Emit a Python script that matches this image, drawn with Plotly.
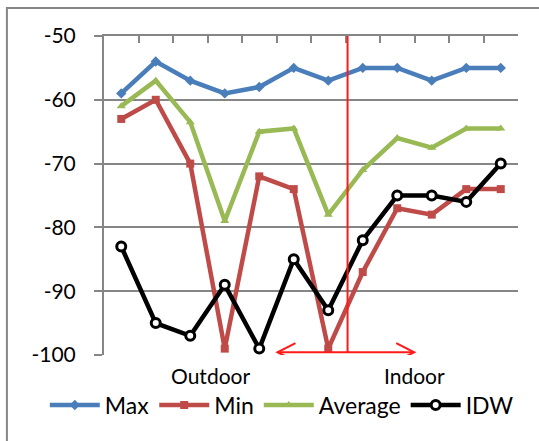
import plotly.graph_objects as go

# ---- data ----
points = list(range(1, 13))
max_vals = [-59, -54, -57, -59, -58, -55, -57, -55, -55, -57, -55, -55]
min_vals = [-63, -60, -70, -99, -72, -74, -99, -87, -77, -78, -74, -74]
avg_vals = [-61, -57, -63.5, -79, -65, -64.5, -78, -71, -66, -67.5, -64.5, -64.5]
idw_vals = [-83, -95, -97, -89, -99, -85, -93, -82, -75, -75, -76, -70]
y_ticks = [-50, -60, -70, -80, -90, -100]
group_labels = ["Outdoor", "Indoor"]
group_pos = [3.6, 9.5]
divider_x = 7.56
arrow_x = [5.53, 9.49]
arrow_y = -99.57

FONT = "Lato"
GRAY = "#868686"

fig = go.Figure()
fig.add_trace(go.Scatter(x=points, y=max_vals, name="Max", mode="lines+markers",
                         line=dict(color="#4A7EBB", width=4.5),
                         marker=dict(symbol="diamond", size=8, color="#4A7EBB")))
fig.add_trace(go.Scatter(x=points, y=min_vals, name="Min", mode="lines+markers",
                         line=dict(color="#BE4B48", width=4.5),
                         marker=dict(symbol="square", size=8, color="#BE4B48")))
fig.add_trace(go.Scatter(x=points, y=avg_vals, name="Average", mode="lines+markers",
                         line=dict(color="#98B954", width=4.5),
                         marker=dict(symbol="triangle-up", size=8, color="#98B954")))
fig.add_trace(go.Scatter(x=points, y=idw_vals, name="IDW", mode="lines+markers",
                         line=dict(color="#000000", width=4.5),
                         marker=dict(symbol="circle", size=9, color="white",
                                     line=dict(color="#000000", width=3))))

shapes = []
# outer chart border
shapes.append(dict(type="rect", xref="paper", yref="paper",
                   x0=-0.2345, x1=1.2, y0=-0.4, y1=1.0878,
                   line=dict(color=GRAY, width=2), layer="below"))
# divider line
shapes.append(dict(type="line", xref="x", yref="y", x0=divider_x, x1=divider_x,
                   y0=-50, y1=arrow_y, line=dict(color="#FF1A1A", width=2)))
# double arrow
shapes.append(dict(type="line", xref="x", yref="y", x0=arrow_x[0], x1=arrow_x[1],
                   y0=arrow_y, y1=arrow_y, line=dict(color="#FF1A1A", width=2)))
dx, dy = 0.52, 1.42
shapes.append(dict(type="path", xref="x", yref="y",
                   path=f"M{arrow_x[0]+dx},{arrow_y+dy} L{arrow_x[0]},{arrow_y} L{arrow_x[0]+dx},{arrow_y-dy}",
                   line=dict(color="#FF1A1A", width=2)))
shapes.append(dict(type="path", xref="x", yref="y",
                   path=f"M{arrow_x[1]-dx},{arrow_y+dy} L{arrow_x[1]},{arrow_y} L{arrow_x[1]-dx},{arrow_y-dy}",
                   line=dict(color="#FF1A1A", width=2)))

annotations = [dict(x=px, y=-0.065, xref="x", yref="paper", text=t, showarrow=False,
                    xanchor="center", yanchor="middle",
                    font=dict(family=FONT, size=21, color="#000"))
               for t, px in zip(group_labels, group_pos)]

fig.update_layout(
    width=539, height=441,
    margin=dict(l=104, r=21.3, t=36, b=86, pad=0, autoexpand=False),
    paper_bgcolor="white", plot_bgcolor="white",
    font=dict(family=FONT, size=21, color="#000"),
    shapes=shapes, annotations=annotations,
    showlegend=True,
    legend=dict(orientation="h", x=-0.143, y=-0.157, xanchor="left", yanchor="middle",
                font=dict(family=FONT, size=23, color="#000"),
                itemwidth=50, tracegroupgap=0, bgcolor="rgba(0,0,0,0)"),
    xaxis=dict(range=[0.5, 12.5], side="top", showgrid=False, zeroline=False,
               showline=True, linecolor=GRAY, linewidth=2,
               tickmode="array", tickvals=[i + 0.5 for i in range(0, 13)],
               ticks="inside", ticklen=7, tickcolor=GRAY, tickwidth=2,
               showticklabels=False),
    yaxis=dict(range=[-100, -50], tickmode="array", tickvals=y_ticks,
               ticktext=[str(v) for v in y_ticks],
               showgrid=True, gridcolor=GRAY, gridwidth=1.5, zeroline=False,
               showline=True, linecolor=GRAY, linewidth=2,
               ticks="outside", ticklen=8, tickcolor=GRAY, tickwidth=1.5,
               ticklabelstandoff=14, tickfont=dict(family=FONT, size=21, color="#000")),
)

fig.write_html("out.html", config={"displayModeBar": False},
               post_script="document.body.style.margin='0';")
